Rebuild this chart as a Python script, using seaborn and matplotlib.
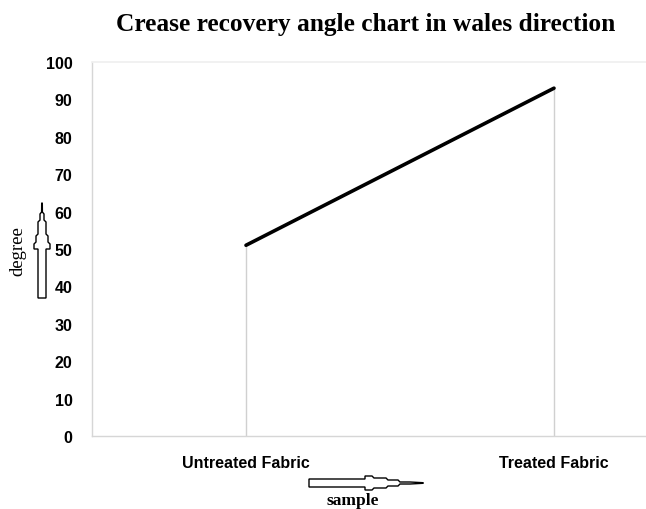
import matplotlib
matplotlib.use("Agg")
import matplotlib.pyplot as plt
import seaborn as sns
import pandas as pd
from matplotlib.patches import Polygon

samples = ["Untreated Fabric", "Treated Fabric"]
degrees = [51, 93]
y_ticks = [0, 10, 20, 30, 40, 50, 60, 70, 80, 90, 100]

sns.set_theme(style="white")
plt.rcParams['font.family'] = ['Liberation Sans', 'DejaVu Sans']

W, H = 646, 510
fig = plt.figure(figsize=(W / 100, H / 100), dpi=100)
ax = fig.add_axes([92 / W, (H - 437) / H, (W - 92) / W, 374 / H])

df = pd.DataFrame({"sample": samples, "degree": degrees, "pos": range(len(samples))})
ax.vlines(df["pos"], 0, df["degree"], color="#d0d0d0", lw=1.0, zorder=1)
sns.lineplot(data=df, x="pos", y="degree", ax=ax, color="black", lw=2.6, zorder=3)

ax.set_xlim(-0.5, (W - 246) / 308)
ax.set_ylim(0, 100)
ax.set_yticks(y_ticks)
ax.set_yticklabels([str(v) for v in y_ticks], fontweight="bold", fontsize=11.5, color="black")
ax.set_xticks(df["pos"])
ax.set_xticklabels(samples, fontweight="bold", fontsize=11.5, color="black")
ax.tick_params(axis="y", length=0, pad=14)
ax.tick_params(axis="x", length=0, pad=14)
ax.set_xlabel("")
ax.set_ylabel("")
ax.grid(False)
for side in ["left", "bottom"]:
    ax.spines[side].set_color("#d6d6d6")
    ax.spines[side].set_linewidth(1.0)
ax.spines["top"].set_color("#f0f0f0")
ax.spines["right"].set_visible(False)

serif = ['Liberation Serif', 'DejaVu Serif']
fig.text(366 / W, 1 - 25 / H, "Crease recovery angle chart in wales direction",
         family=serif, fontweight="bold", fontsize=18.3, ha="center", va="center",
         color="black")
fig.text(18 / W, 1 - 251 / H, "degree", family=serif, fontsize=13.5,
         rotation=90, ha="center", va="center", color="black")
fig.text(353 / W, 1 - 501 / H, "sample", family=serif, fontweight="bold", fontsize=12.5,
         ha="center", va="center", color="black")

# hollow arrows (decorations) in pixel coordinates
def px(pts):
    return [(x / W, 1 - y / H) for x, y in pts]

cx = 42
right = [(46, 299), (46, 250), (50, 250), (50, 245), (48, 243), (48, 237),
         (46, 235), (46, 223), (44, 221), (44, 215), (42.4, 213), (42.3, 204)]
left = [(2 * cx - x, y) for x, y in reversed(right)]
up = Polygon(px(right + left), closed=True, fill=True, facecolor="white",
             edgecolor="black", lw=1.0, transform=fig.transFigure)
fig.add_artist(up)

cy = 484
top = [(309, 480), (365, 480), (365, 477), (372, 477), (374, 479), (386, 479),
         (388, 481), (398, 481), (400, 483), (410, 483), (423, 483.7)]
bot = [(x, 2 * cy - y) for x, y in reversed(top)]
rt = Polygon(px(top + bot), closed=True, fill=True, facecolor="white",
             edgecolor="black", lw=1.0, transform=fig.transFigure)
fig.add_artist(rt)

fig.savefig("out.png", dpi=100)
